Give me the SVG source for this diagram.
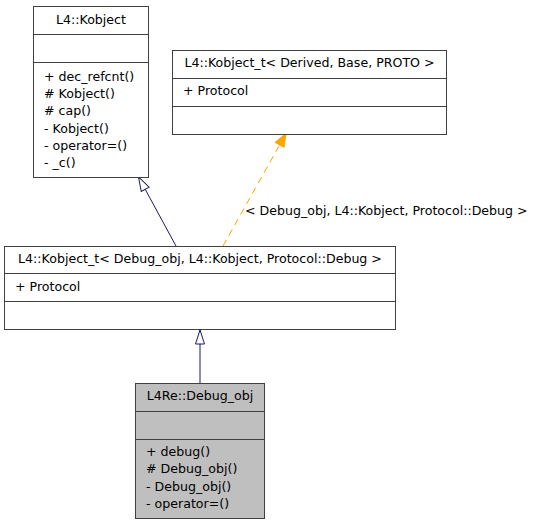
<svg xmlns="http://www.w3.org/2000/svg" width="537" height="525" viewBox="0 0 537 525">
<defs>
<style>
text{font-family:"DejaVu Sans","Noto Sans",sans-serif;font-size:12.6px;fill:#000}
.box{fill:#fff;stroke:#404040;stroke-width:1}
.gray{fill:#bfbfbf}
.sep{stroke:#404040;stroke-width:1}
.mid{text-anchor:middle}
.inh{fill:none;stroke:#191970;stroke-width:1}
.tpl{fill:none;stroke:#ffa500;stroke-width:1;stroke-dasharray:7,5}
</style>
<marker id="open" markerUnits="userSpaceOnUse" viewBox="-16 -8 18 16" refX="0" refY="0" markerWidth="18" markerHeight="16" orient="auto">
<path d="M0,0 L-14,-4.5 L-14,4.5 Z" fill="#fff" stroke="#191970" stroke-width="1"/>
</marker>
<marker id="filled" markerUnits="userSpaceOnUse" viewBox="-16 -8 18 16" refX="0" refY="0" markerWidth="18" markerHeight="16" orient="auto">
<path d="M0,0 L-13,-5 L-13,5 Z" fill="#ffa500" stroke="#ffa500" stroke-width="1"/>
</marker>
</defs>
<g id="connectors">
<path class="inh" d="M176,246 L138.5,177" marker-end="url(#open)"/>
<path class="inh" d="M200,383 L200,330" marker-end="url(#open)"/>
<path class="tpl" d="M223,246 L286,133.5" marker-end="url(#filled)"/>
<text x="245" y="215">&lt; Debug_obj, L4::Kobject, Protocol::Debug &gt;</text>
</g>
<g id="kobject">
<rect class="box" x="33.5" y="6.5" width="115" height="171"/>
<line class="sep" x1="33.5" y1="34.5" x2="148.5" y2="34.5"/>
<line class="sep" x1="33.5" y1="62.5" x2="148.5" y2="62.5"/>
<text class="mid" x="91" y="24">L4::Kobject</text>
<text x="44" y="80.5">+ dec_refcnt()</text>
<text x="44" y="97.5"># Kobject()</text>
<text x="44" y="115"># cap()</text>
<text x="44" y="132.5">- Kobject()</text>
<text x="44" y="149.5">- operator=()</text>
<text x="44" y="167">- _c()</text>
</g>
<g id="kobject_t_template">
<rect class="box" x="172.5" y="50.5" width="274" height="84"/>
<line class="sep" x1="172.5" y1="78.5" x2="446.5" y2="78.5"/>
<line class="sep" x1="172.5" y1="106.5" x2="446.5" y2="106.5"/>
<text class="mid" x="309.5" y="67">L4::Kobject_t&lt; Derived, Base, PROTO &gt;</text>
<text x="183" y="95">+ Protocol</text>
</g>
<g id="kobject_t_debug">
<rect class="box" x="4.5" y="246.5" width="391" height="83"/>
<line class="sep" x1="4.5" y1="273.5" x2="395.5" y2="273.5"/>
<line class="sep" x1="4.5" y1="301.5" x2="395.5" y2="301.5"/>
<text class="mid" x="200" y="263">L4::Kobject_t&lt; Debug_obj, L4::Kobject, Protocol::Debug &gt;</text>
<text x="15" y="291">+ Protocol</text>
</g>
<g id="debug_obj">
<rect class="box gray" x="135.5" y="383.5" width="129" height="135"/>
<line class="sep" x1="135.5" y1="411.5" x2="264.5" y2="411.5"/>
<line class="sep" x1="135.5" y1="439.5" x2="264.5" y2="439.5"/>
<text class="mid" x="200" y="400">L4Re::Debug_obj</text>
<text x="146" y="455.5">+ debug()</text>
<text x="146" y="473"># Debug_obj()</text>
<text x="146" y="490.5">- Debug_obj()</text>
<text x="146" y="507.5">- operator=()</text>
</g>
</svg>
